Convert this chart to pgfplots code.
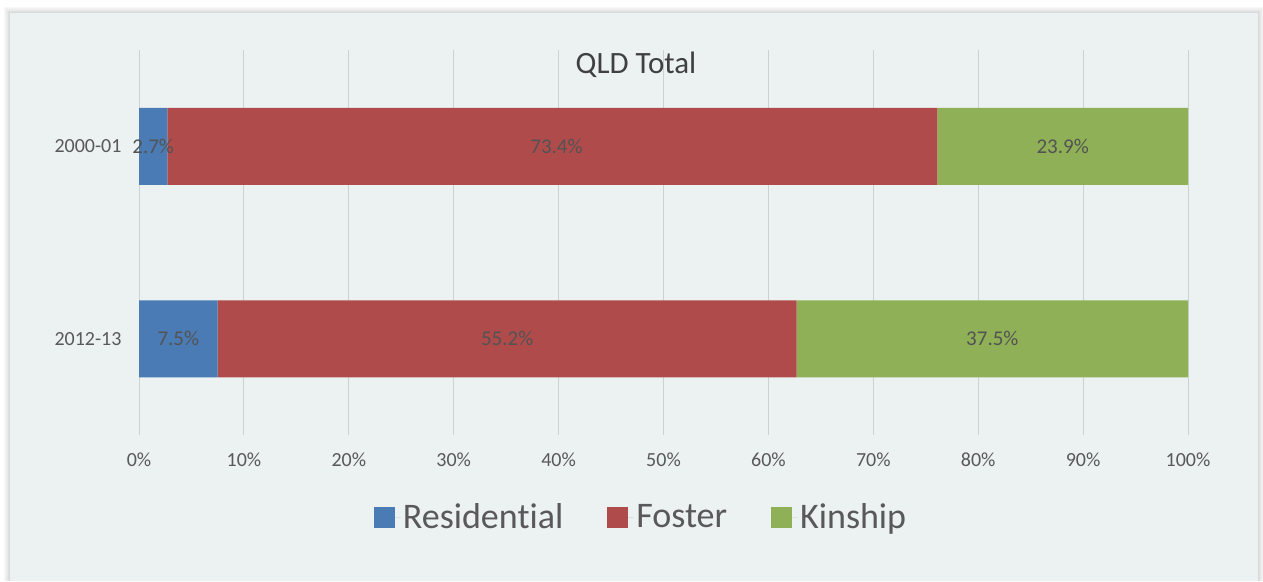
\documentclass[border=0pt]{standalone}
\usepackage{pgfplots}
\pgfplotsset{compat=1.18}
\usepackage{fontspec}
\setmainfont{Carlito}[Ligatures=NoCommon]
\definecolor{bg}{HTML}{ECF1F1}
\definecolor{cRes}{HTML}{4A7BB4}
\definecolor{cFos}{HTML}{AF4B4B}
\definecolor{cKin}{HTML}{8FB056}
\definecolor{txt}{HTML}{595959}
\definecolor{lbl}{HTML}{404040}
\definecolor{grd}{HTML}{CDD1D1}
\begin{document}
\begin{tikzpicture}[x=1pt,y=1pt]
\path[use as bounding box] (0,0) rectangle (1263,581);
% shadow
\foreach \i/\c in {6/3,5/5,4/7,3/9,2/12,1/15}{
  \fill[black!\c] (10-\i,0) rectangle (1258+\i,568+\i);
}
\fill[bg] (10,0) rectangle (1258,568);
\begin{axis}[
  at={(139pt,146pt)}, anchor=south west,
  scale only axis, width=1049pt, height=385pt,
  xbar stacked, bar width=77pt,
  xmin=0, xmax=100, ymin=-0.5, ymax=1.5,
  y dir=reverse,
  ytick={0,1}, yticklabels={2000-01,2012-13},
  xtick={0,10,...,100},
  xticklabel={\pgfmathprintnumber{\tick}\%},
  /pgf/number format/assume math mode=true,
  axis line style={draw=none},
  major tick length=0pt,
  xmajorgrids, ymajorgrids=false,
  grid style={grd, line width=0.9pt},
  tick label style={font=\fontsize{20}{24}\selectfont, text=txt},
  xticklabel style={yshift=-14pt},
  yticklabel style={xshift=-14pt},
  legend style={at={(axis description cs:0.4786,-0.213)}, anchor=center,
    draw=none, fill=none, legend columns=-1,
    font=\fontsize{36}{42}\selectfont, text=txt,
    /tikz/every even column/.append style={column sep=42pt}},
  legend image code/.code={\fill[#1] (0pt,-10.5pt) rectangle (21pt,10.5pt);
    \path (0pt,0pt) rectangle (27pt,0pt);},
]
\addplot[fill=cRes, draw=none] coordinates {(2.7,0) (7.5,1)};
\addplot[fill=cFos, draw=none] coordinates {(73.4,0) (55.2,1)};
\addplot[fill=cKin, draw=none] coordinates {(23.9,0) (37.3,1)};
\legend{Residential,Foster,Kinship}
\end{axis}
\begin{axis}[
  at={(139pt,146pt)}, anchor=south west,
  scale only axis, width=1049pt, height=385pt,
  xmin=0, xmax=100, ymin=-0.5, ymax=1.5, y dir=reverse,
  hide axis,
  nodes near coords, point meta=explicit symbolic,
  every node near coord/.style={anchor=center, font=\fontsize{21}{25}\selectfont, text=lbl!90},
]
\addplot[only marks, mark=none, draw=none] coordinates {
  (1.35,0) [2.7\%] (39.8,0) [73.4\%] (88.05,0) [23.9\%]
  (3.75,1) [7.5\%] (35.1,1) [55.2\%] (81.35,1) [37.5\%]
};
\end{axis}
\node[font=\fontsize{31}{36}\selectfont, text=lbl] at (636,516) {QLD Total};
\end{tikzpicture}
\end{document}
